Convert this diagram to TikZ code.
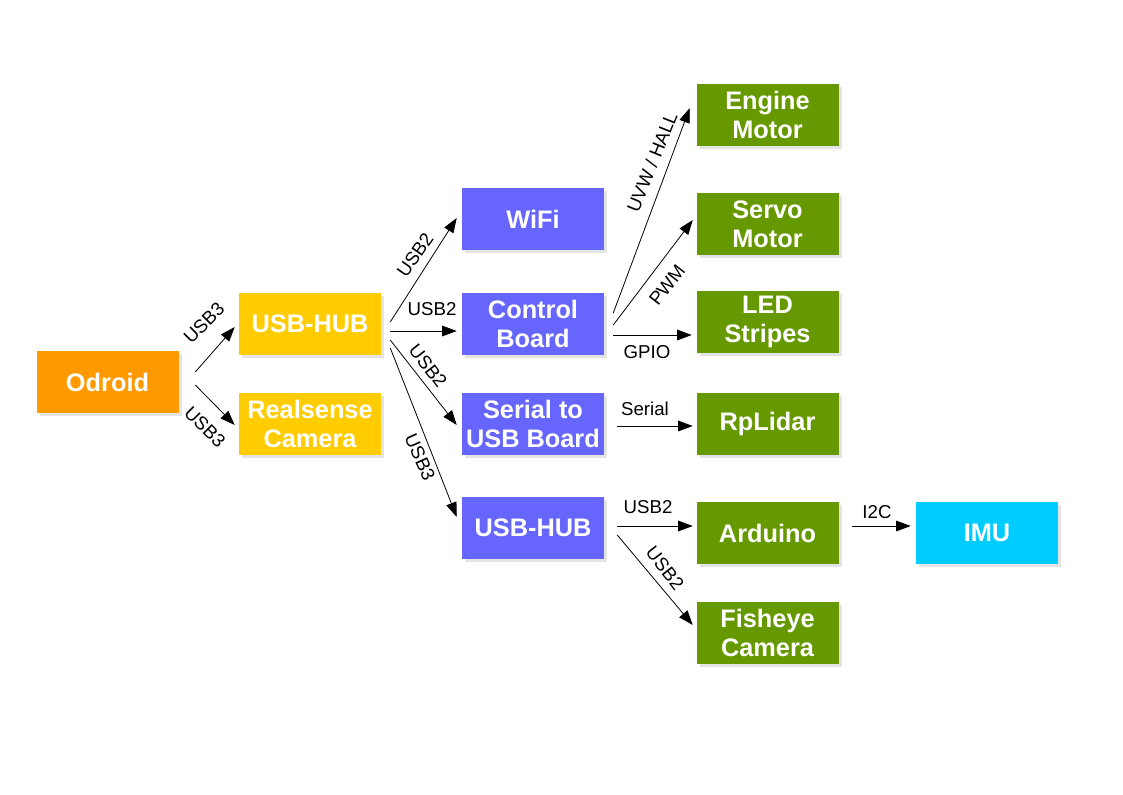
\documentclass[tikz,border=0pt]{standalone}
\usepackage{fontspec}
\setmainfont{Liberation Sans}
\usetikzlibrary{arrows.meta}
\definecolor{cOrange}{HTML}{FF9900}
\definecolor{cYellow}{HTML}{FFCC00}
\definecolor{cPurple}{HTML}{6666FF}
\definecolor{cGreen}{HTML}{669900}
\definecolor{cCyan}{HTML}{00CCFF}
\definecolor{cShadow}{HTML}{E4E4E4}
\tikzset{
  box/.style={rectangle, inner sep=0pt, minimum width=106.5pt, minimum height=46.5pt,
    text=white, align=center, font=\fontsize{19}{21.75}\selectfont\bfseries,
    preaction={fill=cShadow, transform canvas={shift={(2.25pt,-2.25pt)}}}},
  lbl/.style={inner sep=0pt, font=\fontsize{14}{16}\selectfont},
  arr/.style={line width=0.6pt, -{Triangle[length=11pt,width=8pt]}},
}
\begin{document}
\begin{tikzpicture}[x=0.75pt,y=-0.75pt]
\path[fill=white] (0,0) rectangle (1123,794);
\useasboundingbox (0,0) rectangle (1123,794);

% boxes
\node[box, fill=cOrange] (odroid) at (107.5,382) {Odroid};
\node[box, fill=cYellow] (hubY) at (310,324) {USB-HUB};
\node[box, fill=cYellow] (real) at (310,424) {Realsense\\Camera};
\node[box, fill=cPurple] (wifi) at (533,219) {WiFi};
\node[box, fill=cPurple] (ctrl) at (533,324) {Control\\Board};
\node[box, fill=cPurple] (serial) at (533,424) {Serial to\\USB Board};
\node[box, fill=cPurple] (hubP) at (533,528) {USB-HUB};
\node[box, fill=cGreen] (engine) at (767.5,115) {Engine\\Motor};
\node[box, fill=cGreen] (servo) at (767.5,224) {Servo\\Motor};
\node[box, fill=cGreen] (led) at (767.5,322) {LED\\Stripes};
\node[box, fill=cGreen] (lidar) at (767.5,424) {RpLidar};
\node[box, fill=cGreen] (arduino) at (767.5,533) {Arduino};
\node[box, fill=cGreen] (fisheye) at (767.5,633) {Fisheye\\Camera};
\node[box, fill=cCyan] (imu) at (987,533) {IMU};

% connectors
\draw[arr] ([shift={(16.5,-10)}]odroid.east) -- ([shift={(-4,3)}]hubY.west);
\draw[arr] ([shift={(16.5,3)}]odroid.east) -- ([shift={(-4,1)}]real.west);
\draw[arr] ([shift={(9,-2)}]hubY.east) -- ([shift={(-5,-1)}]wifi.west);
\draw[arr] ([shift={(9,7)}]hubY.east) -- ([shift={(-5,7)}]ctrl.west);
\draw[arr] ([shift={(9,16)}]hubY.east) -- ([shift={(-5,1)}]serial.west);
\draw[arr] ([shift={(9,24)}]hubY.east) -- ([shift={(-5,-11)}]hubP.west);
\draw[arr] ([shift={(9,-11)}]ctrl.east) -- ([shift={(-6.5,-7)}]engine.west);
\draw[arr] ([shift={(9,1)}]ctrl.east) -- ([shift={(-3.5,-4)}]servo.west);
\draw[arr] ([shift={(9,11)}]ctrl.east) -- ([shift={(-4.5,13)}]led.west);
\draw[arr] ([shift={(13,2)}]serial.east) -- ([shift={(-3.5,2)}]lidar.west);
\draw[arr] ([shift={(13,-2)}]hubP.east) -- ([shift={(-3.5,-7)}]arduino.west);
\draw[arr] ([shift={(13,7)}]hubP.east) -- ([shift={(-3.5,-8)}]fisheye.west);
\draw[arr] ([shift={(13.5,-7)}]arduino.east) -- ([shift={(-5,-7)}]imu.west);

% labels
\node[lbl, rotate=45] (l1) at (204,323) {USB3};
\node[lbl, rotate=-45] (l2) at (205,427) {USB3};
\node[lbl, rotate=55] (l3) at (415,255) {USB2};
\node[lbl] (l4) at (432,309) {USB2};
\node[lbl, rotate=-52] (l5) at (428,366) {USB2};
\node[lbl, rotate=-66] (l6) at (420,457) {USB3};
\node[lbl, rotate=68] (l7) at (652,162) {UVW / HALL};
\node[lbl, rotate=52] (l8) at (667,285) {PWM};
\node[lbl] (l9) at (647,352) {GPIO};
\node[lbl] (l10) at (645,409) {Serial};
\node[lbl] (l11) at (648,507) {USB2};
\node[lbl, rotate=-52] (l12) at (665,568) {USB2};
\node[lbl] (l13) at (877,512) {I2C};
\end{tikzpicture}
\end{document}
